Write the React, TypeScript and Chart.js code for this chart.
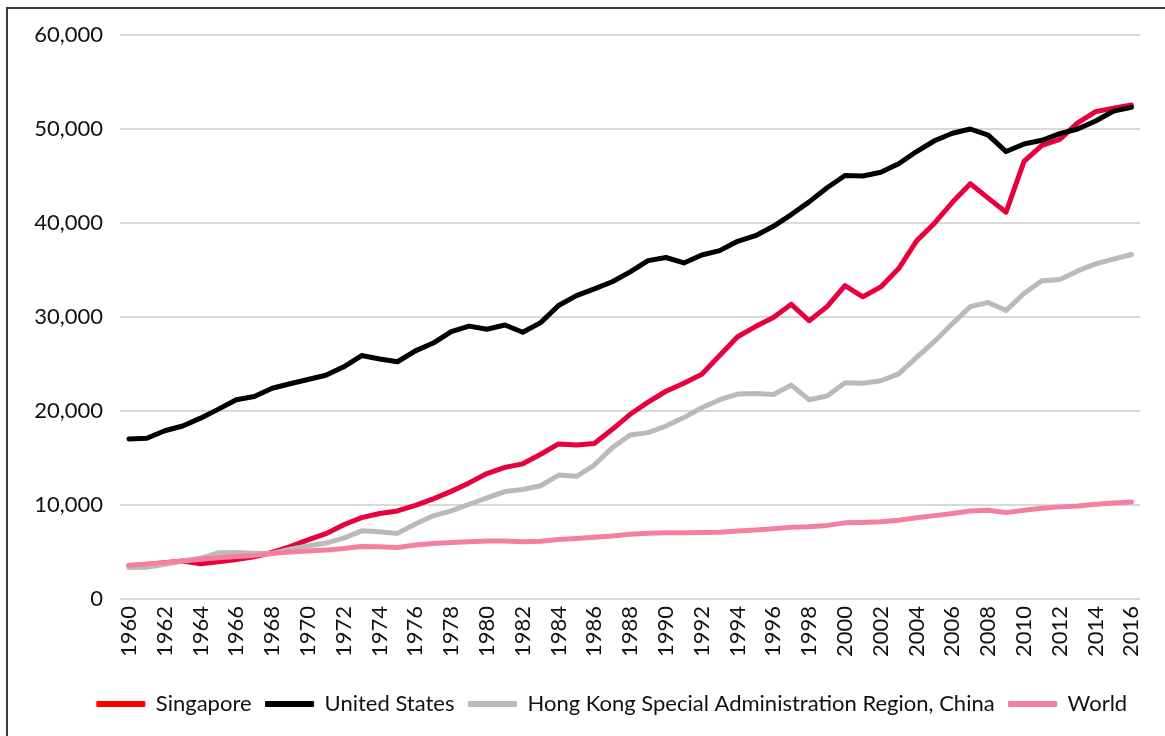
import React, { useEffect, useRef } from "react";
import { Chart, registerables } from "chart.js";

Chart.register(...registerables);

const years: string[] = [];
for (let y = 1960; y <= 2016; y++) years.push(String(y));

const singapore = [
  3500, 3680, 3850, 4050, 3750, 3950, 4200, 4500, 4950, 5580,
  6280, 6950, 7900, 8660, 9100, 9370, 9950, 10650, 11450, 12350,
  13350, 14000, 14380, 15400, 16500, 16380, 16550, 18050, 19650, 20950,
  22100, 22950, 23900, 25900, 27900, 28980, 29950, 31350, 29600, 31100,
  33350, 32150, 33200, 35150, 38100, 39980, 42200, 44180, 42650, 41150,
  46550, 48250, 48900, 50650, 51850, 52200, 52550,
];

const unitedStates = [
  17030, 17100, 17900, 18400, 19240, 20200, 21200, 21550, 22420, 22900,
  23350, 23800, 24700, 25900, 25530, 25240, 26400, 27230, 28450, 29030,
  28700, 29150, 28380, 29400, 31230, 32280, 33000, 33750, 34800, 36000,
  36330, 35750, 36600, 37060, 38050, 38650, 39650, 40900, 42250, 43750,
  45050, 45000, 45400, 46300, 47600, 48750, 49550, 50000, 49350, 47600,
  48400, 48800, 49500, 50000, 50850, 51900, 52300,
];

const hongKong = [
  3340, 3380, 3690, 4050, 4330, 4930, 4950, 4880, 4850, 5290,
  5640, 5950, 6480, 7250, 7150, 6980, 7980, 8850, 9380, 10080,
  10750, 11430, 11650, 12050, 13180, 13050, 14250, 16100, 17450, 17700,
  18400, 19300, 20350, 21200, 21800, 21850, 21750, 22750, 21200, 21600,
  23000, 22950, 23220, 23950, 25700, 27400, 29300, 31100, 31550, 30700,
  32500, 33850, 34000, 34900, 35650, 36150, 36650,
];

const world = [
  3600, 3730, 3870, 4050, 4230, 4380, 4510, 4640, 4830, 5000,
  5110, 5200, 5380, 5580, 5560, 5470, 5750, 5900, 6000, 6100,
  6180, 6180, 6100, 6150, 6320, 6430, 6560, 6700, 6880, 7000,
  7060, 7050, 7080, 7100, 7230, 7350, 7480, 7640, 7680, 7830,
  8100, 8150, 8230, 8380, 8650, 8870, 9100, 9370, 9440, 9190,
  9450, 9660, 9800, 9900, 10080, 10200, 10330,
];

const seriesNames = [
  "Singapore",
  "United States",
  "Hong Kong Special Administration Region, China",
  "World",
];
const lineColors = ["#e8003d", "#000000", "#bcbab8", "#f4809f"];
const legendColors = ["#ff0000", "#000000", "#bcbab8", "#f4809f"];

const FONT = "Lato, 'DejaVu Sans', sans-serif";

const framePlugin = {
  id: "frame",
  beforeDraw(chart: any) {
    const ctx = chart.ctx;
    ctx.save();
    ctx.fillStyle = "#ffffff";
    ctx.fillRect(0, 0, chart.width, chart.height);
    ctx.strokeStyle = "#3a3a3a";
    ctx.lineWidth = 2;
    ctx.beginPath();
    ctx.moveTo(7, chart.height);
    ctx.lineTo(7, 8);
    ctx.lineTo(chart.width, 8);
    ctx.stroke();
    ctx.restore();
  },
};

// shift the legend so its row is centred like the reference
const legendShiftPlugin = {
  id: "legendShift",
  afterLayout(chart: any) {
    const lg = chart.legend;
    if (lg) {
      lg.left += 41;
      lg.right += 41;
    }
  },
};

export default function App() {
  const ref = useRef<HTMLCanvasElement | null>(null);

  useEffect(() => {
    if (!ref.current) return;
    const all = [singapore, unitedStates, hongKong, world];
    const chart = new Chart(ref.current, {
      type: "line",
      data: {
        labels: years,
        datasets: all.map((d, i) => ({
          label: seriesNames[i],
          data: d,
          borderColor: lineColors[i],
          backgroundColor: lineColors[i],
          borderWidth: 5,
          pointRadius: 0,
          tension: 0,
          borderCapStyle: "round",
          borderJoinStyle: "round",
          order: 3 - i,
        })),
      },
      options: {
        animation: false,
        responsive: false,
        maintainAspectRatio: false,
        layout: { padding: { left: 0, right: 23, top: 35, bottom: 11 } },
        plugins: {
          tooltip: { enabled: false },
          legend: {
            position: "bottom",
            labels: {
              font: { family: FONT, size: 22 },
              color: "#111111",
              boxWidth: 48,
              boxHeight: 5,
              padding: 14,
              generateLabels: () =>
                seriesNames.map((n, i) => ({
                  text: n,
                  fillStyle: legendColors[i],
                  strokeStyle: legendColors[i],
                  lineWidth: 1,
                  hidden: false,
                  datasetIndex: i,
                  fontColor: "#111111",
                })),
            },
          },
        },
        scales: {
          x: {
            offset: true,
            grid: { display: false, drawTicks: false },
            border: { display: false },
            ticks: {
              autoSkip: false,
              minRotation: 90,
              maxRotation: 90,
              padding: 7,
              color: "#111111",
              font: { family: FONT, size: 22 },
              callback: (_v: any, idx: number) => (idx % 2 === 0 ? years[idx] : ""),
            },
            afterFit: (s: any) => {
              s.height = 80;
            },
          },
          y: {
            min: 0,
            max: 60000,
            grid: { color: "#d9d9d9", lineWidth: 2, drawTicks: false },
            border: { display: false },
            ticks: {
              stepSize: 10000,
              padding: 17,
              color: "#111111",
              font: { family: FONT, size: 22 },
              callback: (v: any) => Number(v).toLocaleString("en-US"),
            },
            afterFit: (s: any) => {
              s.width = 120;
            },
          },
        },
      },
      plugins: [framePlugin, legendShiftPlugin],
    });
    return () => chart.destroy();
  }, []);

  return (
    <div style={{ position: "fixed", left: 0, top: 0, width: 1165, height: 736 }}>
      <canvas ref={ref} width={1165} height={736} style={{ width: 1165, height: 736 }} />
    </div>
  );
}
